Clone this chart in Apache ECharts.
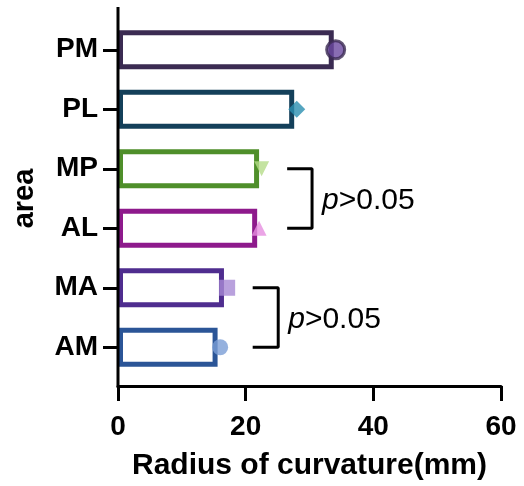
<!DOCTYPE html>
<html>
<head>
<meta charset="utf-8">
<script src="https://cdn.jsdelivr.net/npm/echarts@6/dist/echarts.min.js"></script>
<style>
html,body{margin:0;padding:0;background:#fff;}
#chart{width:524px;height:486px;}
</style>
</head>
<body>
<div id="chart"></div>
<script>
// data
var categories = ['AM', 'MA', 'AL', 'MP', 'PL', 'PM'];
var barValues = [15.6, 16.6, 21.8, 22.1, 27.6, 33.8];
var markerValues = [16.0, 17.1, 22.1, 22.5, 28.0, 34.1];
var borderColors = ['#2b5597', '#4f2d8f', '#8e1a8c', '#4f8f2a', '#14405a', '#3b2b52'];
var markerColors = ['#7a9ed6', '#a88ad4', '#e68fe0', '#b5dc8a', '#2a8fb0', '#6b49a0'];
var markerSymbols = ['circle', 'rect', 'triangle', 'path://M0,0 L10,0 L5,10 Z', 'diamond', 'circle'];
var markerSizes = [16, 16, 15, 15, 17, 18];
var xTicks = [0, 20, 40, 60];
// comparison brackets: [category a, category b, x start, x end]
var brackets = [['MP', 'AL', 26.5, 30.4], ['MA', 'AM', 21.1, 25.1]];
var pText = '{i|p}>0.05';

var font = 'Arial, "Liberation Sans", sans-serif';
var dom = document.getElementById('chart');
var myChart = echarts.init(dom);

var barData = barValues.map(function (v, i) {
    return { value: v, itemStyle: { color: '#ffffff', borderColor: borderColors[i], borderWidth: 5 } };
});
var markerData = markerValues.map(function (v, i) {
    return {
        value: [v, categories[i]],
        symbol: markerSymbols[i],
        symbolSize: markerSizes[i],
        itemStyle: {
            color: markerColors[i],
            borderColor: i == 5 ? '#3b2b52' : markerColors[i],
            borderWidth: i == 5 ? 3 : 0
        }
    };
});

var bracketSeries = brackets.map(function (b) {
    return {
        type: 'line',
        data: [[b[2], b[0]], [b[3], b[0]], [b[3], b[1]], [b[2], b[1]]],
        symbol: 'none',
        silent: true,
        lineStyle: { color: '#000', width: 3 },
        z: 5
    };
});

var option = {
    animation: false,
    grid: { left: 118, right: 23, top: 20, bottom: 109, containLabel: false },
    xAxis: {
        type: 'value',
        min: 0, max: 60, interval: 20,
        offset: 9,
        splitLine: { show: false },
        axisLine: { show: true, lineStyle: { color: '#000', width: 3 } },
        axisTick: { show: true, length: 15, lineStyle: { color: '#000', width: 3 } },
        axisLabel: {
            margin: 27, color: '#000', fontSize: 28, fontWeight: 'bold', fontFamily: font,
            formatter: function (v) { return xTicks.indexOf(v) >= 0 ? String(v) : ''; }
        },
        name: 'Radius of curvature(mm)',
        nameLocation: 'middle',
        nameGap: 65,
        nameTextStyle: { color: '#000', fontSize: 30, fontWeight: 'bold', fontFamily: font }
    },
    yAxis: {
        type: 'category',
        data: categories,
        axisLine: { show: false },
        axisTick: { show: true, alignWithLabel: true, length: 15, lineStyle: { color: '#000', width: 3 } },
        axisLabel: { margin: 20, color: '#000', fontSize: 28, fontWeight: 'bold', fontFamily: font },
        name: 'area',
        nameLocation: 'middle',
        nameRotate: 90,
        nameGap: 79,
        nameTextStyle: { color: '#000', fontSize: 29, fontWeight: 'bold', fontFamily: font }
    },
    series: [
        {
            type: 'bar',
            data: barData,
            barWidth: 39,
            z: 2
        },
        {
            type: 'scatter',
            data: markerData,
            z: 4
        }
    ].concat(bracketSeries)
};
myChart.setOption(option, true);

// y axis line drawn from top to the offset x axis, and bracket texts
var x0 = myChart.convertToPixel({ xAxisIndex: 0 }, 0);
var graphics = [{
    type: 'line',
    shape: { x1: x0, y1: 7, x2: x0, y2: 387.5 },
    style: { stroke: '#000', lineWidth: 3 },
    z: 10
}];
brackets.forEach(function (b) {
    var pa = myChart.convertToPixel({ seriesIndex: 0 }, [b[3], b[0]]);
    var pb = myChart.convertToPixel({ seriesIndex: 0 }, [b[3], b[1]]);
    graphics.push({
        type: 'text',
        x: pa[0] + 10,
        y: (pa[1] + pb[1]) / 2 + 2,
        style: {
            text: pText,
            fill: '#000',
            fontSize: 30,
            fontFamily: font,
            verticalAlign: 'middle',
            rich: { i: { fontStyle: 'italic', fontSize: 30, fontFamily: font, fill: '#000' } }
        },
        z: 10
    });
});
myChart.setOption({ graphic: graphics });
</script>
</body>
</html>
